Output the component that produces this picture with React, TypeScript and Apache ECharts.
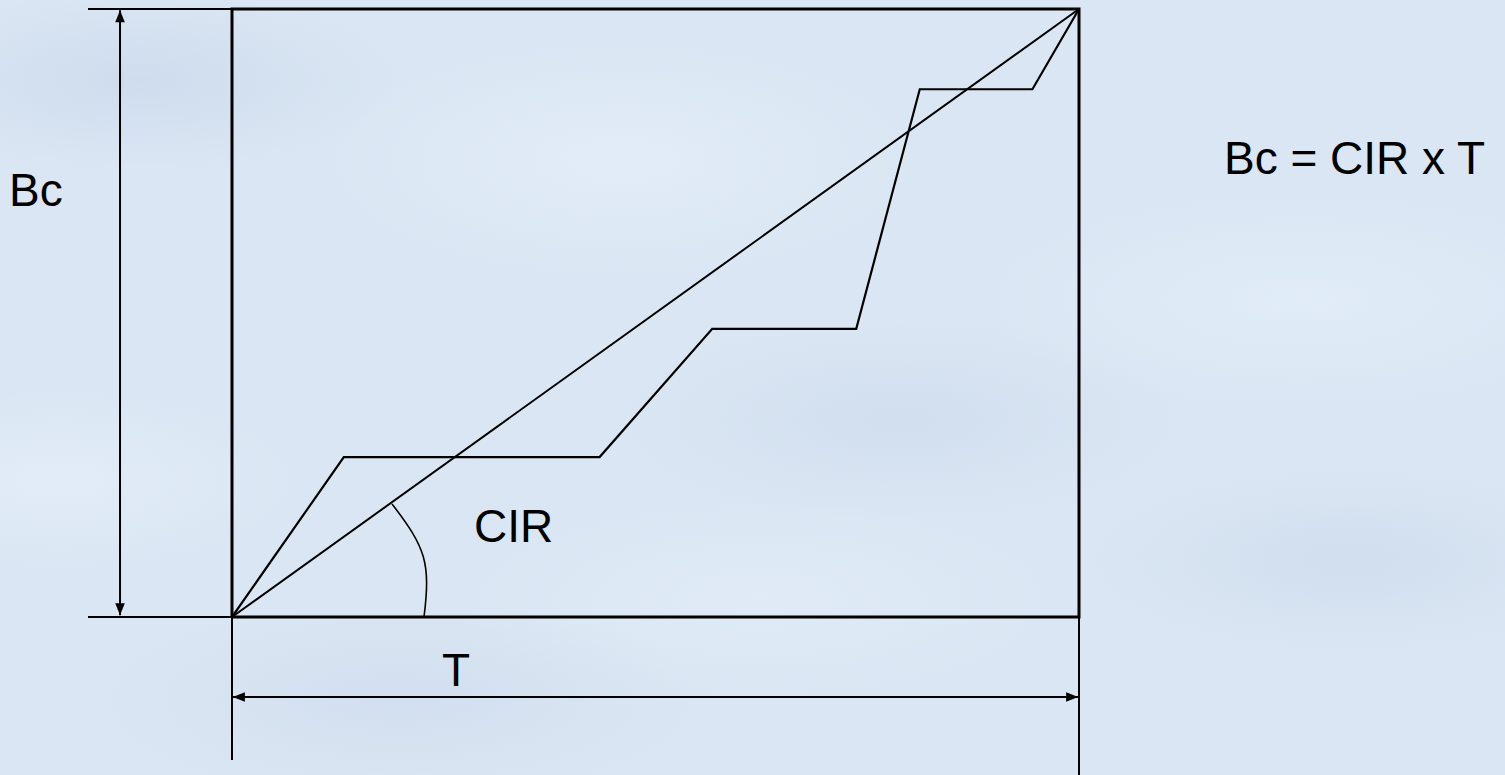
import React, { useEffect, useRef } from "react";
import * as echarts from "echarts";

// Time axis (T) and committed burst axis (Bc), both in percent of the interval.
const timeRange = [0, 100];
const burstRange = [0, 100];

// Committed rate: straight line from origin to (T, Bc).
const cirTime = [0, 100];
const cirBits = [0, 100];

// Actual bursty traffic: bits sent over the interval.
const trafficTime = [0, 13.2, 43.4, 56.7, 73.7, 81.2, 94.5, 100];
const trafficBits = [0, 26.3, 26.3, 47.4, 47.4, 86.8, 86.8, 100];

// Dimension lines: [x1, y1, x2, y2, arrowAtStart, arrowAtEnd]
const dimensionLines = [
  [-17.0, 100, 0, 100, 0, 0],
  [-17.0, 0, 0, 0, 0, 0],
  [-13.22, 0.3, -13.22, 99.8, 1, 1],
  [0, 0, 0, -23.5, 0, 0],
  [100, 0, 100, -26.2, 0, 0],
  [0.1, -13.16, 99.9, -13.16, 1, 1],
];

// Angle marker between the time axis and the CIR line (cubic Bezier).
const angleMarker = [[18.89, 18.59, 22.86, 11.43, 23.47, 8.98, 22.67, 0]];

const labels = [
  { text: "Bc", x: 9, y: 190 },
  { text: "Bc = CIR x T", x: 1224, y: 158 },
  { text: "CIR", x: 474, y: 526 },
  { text: "T", x: 442, y: 670 },
];

const FONT = '"Liberation Sans", Arial, Helvetica, sans-serif';

export default function App() {
  const ref = useRef<HTMLDivElement>(null);

  useEffect(() => {
    document.body.style.margin = "0";
    if (!ref.current) return;
    const chart = echarts.init(ref.current, null, { renderer: "svg" });

    const zip = (xs: number[], ys: number[]) => xs.map((x, i) => [x, ys[i]]);

    const boxData = [
      [timeRange[0], burstRange[0]],
      [timeRange[1], burstRange[0]],
      [timeRange[1], burstRange[1]],
      [timeRange[0], burstRange[1]],
      [timeRange[0], burstRange[0]],
    ];

    const arrowHead = (tip: number[], from: number[]) => {
      const dx = tip[0] - from[0];
      const dy = tip[1] - from[1];
      const len = Math.hypot(dx, dy) || 1;
      const ux = dx / len;
      const uy = dy / len;
      const L = 12;
      const W = 4.8;
      const bx = tip[0] - ux * L;
      const by = tip[1] - uy * L;
      return {
        type: "polygon",
        shape: {
          points: [
            [tip[0], tip[1]],
            [bx - uy * W, by + ux * W],
            [bx + uy * W, by - ux * W],
          ],
        },
        style: { fill: "#000" },
      };
    };

    chart.setOption({
      animation: false,
      backgroundColor: "transparent",
      grid: { left: 232, top: 9, width: 847, height: 608 },
      xAxis: { type: "value", min: timeRange[0], max: timeRange[1], show: false },
      yAxis: { type: "value", min: burstRange[0], max: burstRange[1], show: false },
      graphic: labels.map((l) => ({
        type: "text",
        x: l.x,
        y: l.y,
        silent: true,
        style: {
          text: l.text,
          font: `46px ${FONT}`,
          fill: "#000",
          textAlign: "left",
          textVerticalAlign: "middle",
        },
      })),
      series: [
        {
          type: "line",
          data: boxData,
          symbol: "none",
          clip: false,
          silent: true,
          lineStyle: { color: "#000", width: 3, join: "miter" },
        },
        {
          type: "line",
          data: zip(cirTime, cirBits),
          symbol: "none",
          clip: false,
          silent: true,
          lineStyle: { color: "#000", width: 2 },
        },
        {
          type: "line",
          data: zip(trafficTime, trafficBits),
          symbol: "none",
          clip: false,
          silent: true,
          lineStyle: { color: "#000", width: 2.2, join: "miter" },
        },
        {
          type: "custom",
          clip: false,
          silent: true,
          data: dimensionLines,
          renderItem: (_params: any, api: any) => {
            const p1 = api.coord([api.value(0), api.value(1)]);
            const p2 = api.coord([api.value(2), api.value(3)]);
            const children: any[] = [
              {
                type: "line",
                shape: { x1: p1[0], y1: p1[1], x2: p2[0], y2: p2[1] },
                style: { stroke: "#000", lineWidth: 2 },
              },
            ];
            if (api.value(4)) children.push(arrowHead(p1, p2));
            if (api.value(5)) children.push(arrowHead(p2, p1));
            return { type: "group", children };
          },
        },
        {
          type: "custom",
          clip: false,
          silent: true,
          data: angleMarker,
          renderItem: (_params: any, api: any) => {
            const a = api.coord([api.value(0), api.value(1)]);
            const c1 = api.coord([api.value(2), api.value(3)]);
            const c2 = api.coord([api.value(4), api.value(5)]);
            const b = api.coord([api.value(6), api.value(7)]);
            return {
              type: "bezierCurve",
              shape: {
                x1: a[0],
                y1: a[1],
                cpx1: c1[0],
                cpy1: c1[1],
                cpx2: c2[0],
                cpy2: c2[1],
                x2: b[0],
                y2: b[1],
              },
              style: { stroke: "#000", lineWidth: 1.6, fill: "none" },
            };
          },
        },
      ],
    });

    return () => chart.dispose();
  }, []);

  return (
    <div
      style={{
        width: 1505,
        height: 775,
        position: "relative",
        overflow: "hidden",
        backgroundColor: "#dae6f3",
        backgroundImage: [
          "radial-gradient(ellipse 260px 90px at 140px 80px, rgba(196,212,232,0.55), transparent)",
          "radial-gradient(ellipse 300px 120px at 620px 160px, rgba(232,241,252,0.6), transparent)",
          "radial-gradient(ellipse 280px 100px at 900px 420px, rgba(200,215,234,0.5), transparent)",
          "radial-gradient(ellipse 320px 110px at 1300px 300px, rgba(230,240,252,0.6), transparent)",
          "radial-gradient(ellipse 260px 90px at 1350px 560px, rgba(198,214,233,0.5), transparent)",
          "radial-gradient(ellipse 300px 100px at 400px 700px, rgba(202,216,234,0.5), transparent)",
          "radial-gradient(ellipse 240px 90px at 60px 480px, rgba(232,241,252,0.6), transparent)",
          "radial-gradient(ellipse 300px 100px at 760px 600px, rgba(230,239,251,0.55), transparent)",
        ].join(", "),
      }}
    >
      <div ref={ref} style={{ width: 1505, height: 775 }} />
    </div>
  );
}
